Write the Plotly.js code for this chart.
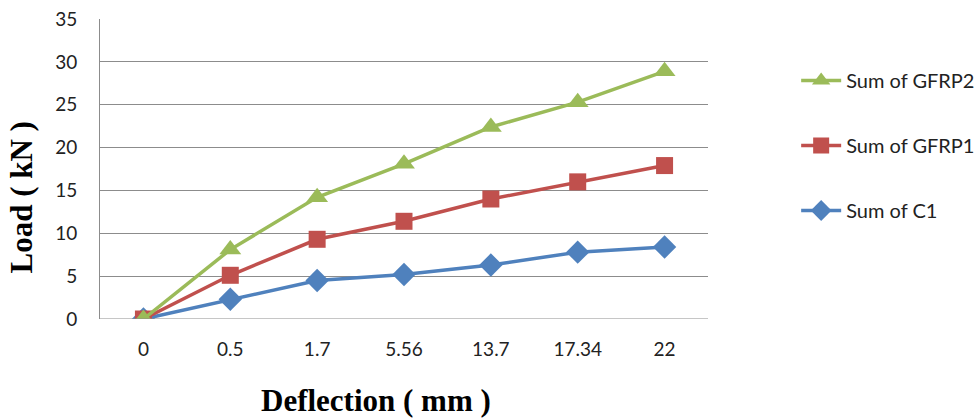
<!DOCTYPE html>
<html>
<head>
<meta charset="utf-8">
<script src="https://cdn.plot.ly/plotly-3.0.1.min.js"></script>
<style>html,body{margin:0;padding:0;background:#fff;}#chart{width:979px;height:419px;}</style>
</head>
<body>
<div id="chart"></div>
<script>
const categories = ["0", "0.5", "1.7", "5.56", "13.7", "17.34", "22"];
const seriesNames = ["Sum of C1", "Sum of GFRP1", "Sum of GFRP2"];
const c1 = [0, 2.3, 4.5, 5.2, 6.3, 7.8, 8.4];
const gfrp1 = [0, 5.1, 9.3, 11.4, 14.0, 16.0, 17.9];
const gfrp2 = [0, 8.1, 14.2, 18.1, 22.4, 25.3, 28.9];
const yTicks = [0, 5, 10, 15, 20, 25, 30, 35];
const xTitle = "Deflection ( mm )";
const yTitle = "Load ( kN )";

const colors = ["#4F81BD", "#C0504D", "#9BBB59"];
const symbols = ["diamond", "square", "triangle-up"];
const sizes = [18, 17, 19];
const ranks = [3, 2, 1];
const values = [c1, gfrp1, gfrp2];

const traces = values.map((v, i) => ({
  type: "scatter",
  mode: "lines+markers",
  x: categories,
  y: v,
  name: seriesNames[i],
  legendgroup: "g" + i,
  legendrank: ranks[i],
  line: {color: colors[i], width: 3.5},
  marker: {color: colors[i], symbol: symbols[i], size: sizes[i]}
}));

const titleFont = {family: "'Liberation Serif', serif", size: 31, color: "#000", weight: "bold"};

const layout = {
  width: 979,
  height: 419,
  margin: {l: 100, r: 271, t: 19, b: 100, autoexpand: false},
  paper_bgcolor: "#ffffff",
  plot_bgcolor: "#ffffff",
  font: {family: "Lato, 'Open Sans', sans-serif", size: 19, color: "#222"},
  xaxis: {
    type: "category",
    range: [-0.5, 6.5],
    showgrid: false,
    zeroline: false,
    showline: false,
    ticks: "",
    tickfont: {size: 19, family: "Lato, sans-serif", color: "#222"},
    ticklabelstandoff: 17
  },
  yaxis: {
    range: [0, 35],
    tickvals: yTicks,
    showgrid: true,
    gridcolor: "#8c8c8c",
    gridwidth: 1,
    zeroline: false,
    showline: true,
    linecolor: "#8c8c8c",
    linewidth: 1,
    ticks: "",
    tickfont: {size: 19, family: "Lato, sans-serif", color: "#222"},
    ticklabelstandoff: 18
  },
  shapes: [{type: "line", xref: "paper", yref: "y", x0: 0, x1: 1, y0: 0, y1: 0, line: {color: "#8c8c8c", width: 1}}],
  annotations: [
    {text: xTitle, xref: "paper", yref: "paper", x: (376 - 100) / 608, y: (319 - 400) / 300, xanchor: "center", yanchor: "middle", showarrow: false, font: titleFont},
    {text: yTitle, xref: "paper", yref: "paper", x: 0, y: 0.405, xanchor: "center", yanchor: "middle", showarrow: false, textangle: -90, font: titleFont, xshift: -79}
  ],
  legend: {
    x: 1.145,
    xanchor: "left",
    y: 0.86,
    yanchor: "top",
    traceorder: "grouped",
    tracegroupgap: 36,
    itemwidth: 40,
    font: {family: "Lato, sans-serif", size: 20, color: "#222"},
    bgcolor: "rgba(0,0,0,0)"
  },
  showlegend: true
};

Plotly.newPlot("chart", traces, layout, {displayModeBar: false, staticPlot: true});
</script>
</body>
</html>
